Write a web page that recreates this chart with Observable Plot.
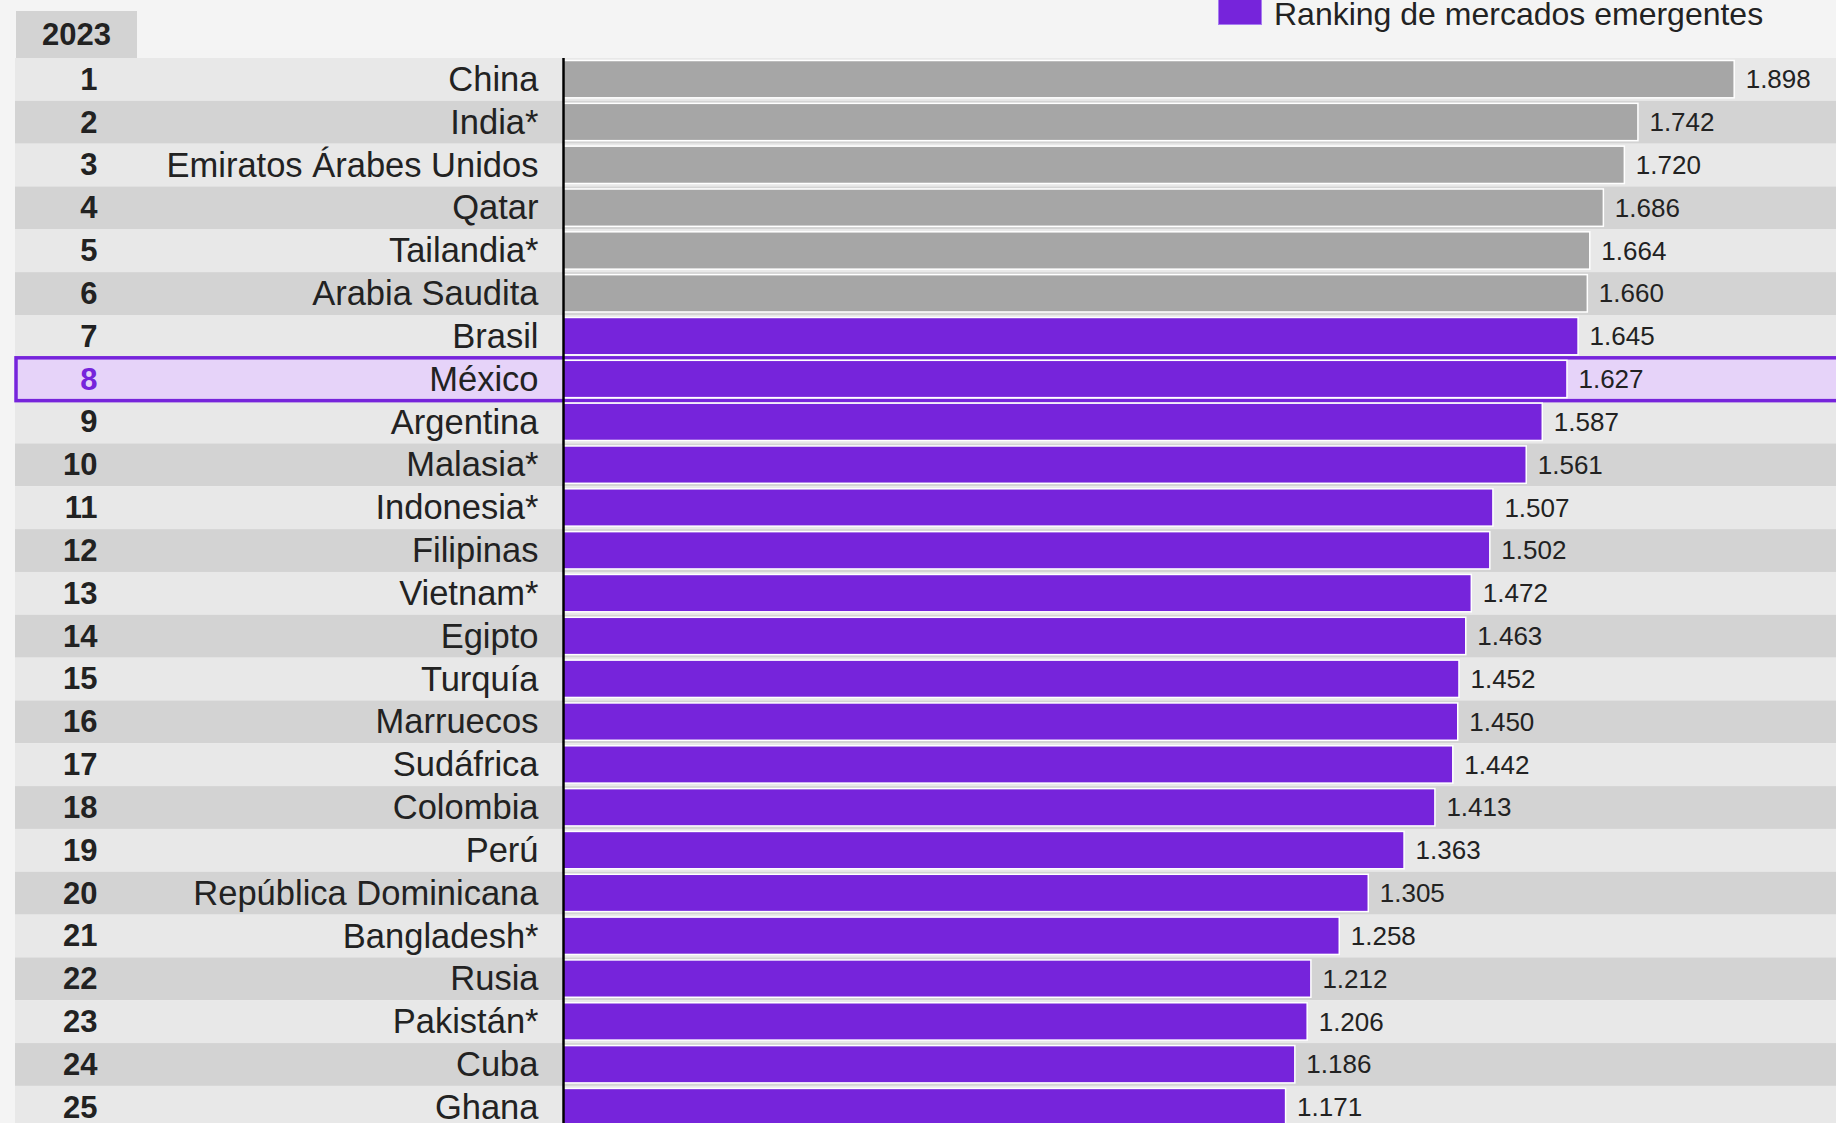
<!DOCTYPE html>
<html>
<head>
<meta charset="utf-8">
<script src="https://cdn.jsdelivr.net/npm/d3@7"></script>
<script src="https://cdn.jsdelivr.net/npm/@observablehq/plot@0.6"></script>
<style>
  html, body { margin: 0; padding: 0; background: #f4f4f4; overflow: hidden; width: 1836px; height: 1123px; }
  body { position: relative; font-family: "Liberation Sans", Arial, sans-serif; color: #222; }
  #chart { position: absolute; left: 0; top: 0; }
  #year { position: absolute; left: 16px; top: 11px; width: 121px; height: 47px; background: #d3d3d3;
          font-weight: bold; font-size: 31px; line-height: 47px; text-align: center; color: #222; }
  #legsq { position: absolute; left: 1218px; top: -18px; width: 42px; height: 41px; background: #7624db; border: 1px solid #a77cf0; }
  #legtx { position: absolute; left: 1274px; top: 0px; font-size: 32px; line-height: 28px; color: #222; white-space: nowrap; }
</style>
</head>
<body>
<div id="chart"></div>
<div id="year"></div>
<div id="legsq"></div>
<div id="legtx"></div>
<script>
const yearLabel = "2023";
const legendLabel = "Ranking de mercados emergentes";
const ranks = [1,2,3,4,5,6,7,8,9,10,11,12,13,14,15,16,17,18,19,20,21,22,23,24,25];
const countries = ["China","India*","Emiratos Árabes Unidos","Qatar","Tailandia*","Arabia Saudita","Brasil","México","Argentina","Malasia*","Indonesia*","Filipinas","Vietnam*","Egipto","Turquía","Marruecos","Sudáfrica","Colombia","Perú","República Dominicana","Bangladesh*","Rusia","Pakistán*","Cuba","Ghana"];
const values = [1898,1742,1720,1686,1664,1660,1645,1627,1587,1561,1507,1502,1472,1463,1452,1450,1442,1413,1363,1305,1258,1212,1206,1186,1171];
const groups = ["top","top","top","top","top","top","emergente","emergente","emergente","emergente","emergente","emergente","emergente","emergente","emergente","emergente","emergente","emergente","emergente","emergente","emergente","emergente","emergente","emergente","emergente"];
const highlighted = "México";

const GRAY = "#a6a6a6", PURPLE = "#7624db", LIGHTPURPLE = "#e6d3f9";

document.getElementById("year").textContent = yearLabel;
document.getElementById("legtx").textContent = legendLabel;

const data = countries.map((c, i) => ({rank: ranks[i], country: c, value: values[i], group: groups[i]}));
const fmt = d3.formatLocale({decimal: ",", thousands: ".", grouping: [3], currency: ["", "€"]}).format(",d");

const rowH = 42.83, plotTop = 58;
const chart = Plot.plot({
  width: 1836,
  height: 1123,
  marginLeft: 563,
  marginRight: 0,
  marginTop: plotTop,
  marginBottom: 0,
  style: {background: "transparent", fontFamily: "'Liberation Sans', Arial, sans-serif", color: "#222"},
  x: {domain: [0, 2063], axis: null},
  y: {domain: countries, range: [plotTop, plotTop + rowH * countries.length], padding: 0, round: false, axis: null},
  marks: [
    Plot.cell(data, {y: "country", fill: d => d.rank % 2 ? "#e8e8e8" : "#d3d3d3", insetLeft: -548}),
    Plot.cell(data.filter(d => d.country === highlighted), {y: "country", fill: LIGHTPURPLE, stroke: PURPLE, strokeWidth: 3.5, insetLeft: -547, insetRight: -10}),
    Plot.barX(data, {x: "value", y: "country", fill: d => d.group === "top" ? GRAY : PURPLE, stroke: "white", strokeWidth: 1.5, insetTop: 2.5, insetBottom: 3}),
    Plot.ruleX([0], {stroke: "black", strokeWidth: 2.5}),
    Plot.text(data, {y: "country", text: "country", frameAnchor: "left", dx: -25, textAnchor: "end", fontSize: 34.5, fill: "#222"}),
    Plot.text(data, {y: "country", text: d => String(d.rank), frameAnchor: "left", dx: -466, textAnchor: "end", fontSize: 31, fontWeight: "bold", fill: d => d.country === highlighted ? PURPLE : "#222"}),
    Plot.text(data, {x: "value", y: "country", text: d => fmt(d.value), dx: 11, textAnchor: "start", fontSize: 26, fill: "#222"})
  ]
});
document.getElementById("chart").appendChild(chart);
</script>
</body>
</html>
